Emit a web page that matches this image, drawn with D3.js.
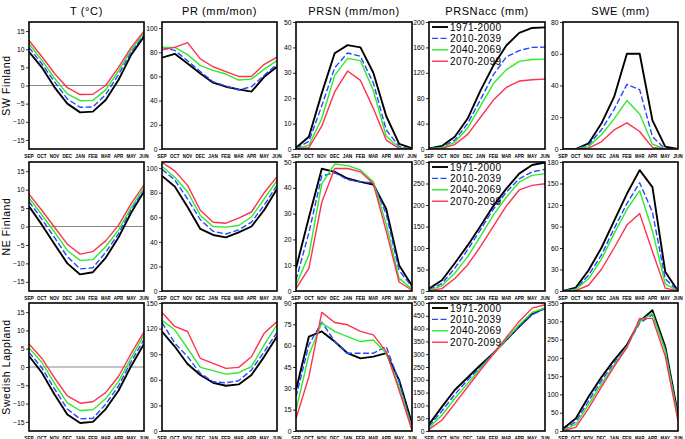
<!DOCTYPE html>
<html><head><meta charset="utf-8">
<script src="https://cdn.jsdelivr.net/npm/d3@7"></script>
<style>
body{margin:0;background:#fff;}
svg{display:block;font-family:"Liberation Sans",Arial,sans-serif;}
</style></head>
<body><svg id="c" width="685" height="439"></svg>
<script>
const months = ["SEP","OCT","NOV","DEC","JAN","FEB","MAR","APR","MAY","JUN"];
const periods = ["1971-2000","2010-2039","2040-2069","2070-2099"];
const periodColors = ["#000000","#2448ff","#2eea2e","#ff3050"];
const regions = ["SW Finland","NE Finland","Swedish Lappland"];
const variables = ["T (°C)","PR (mm/mon)","PRSN (mm/mon)","PRSNacc (mm)","SWE (mm)"];

// each panel: [1971-2000, 2010-2039, 2040-2069, 2070-2099]
const T_SW = [
  [9.3,5,-0.5,-5,-7.4,-7.2,-4,1.5,8.5,13.5],
  [10.5,6,1,-3.7,-6,-5.9,-2.5,3,9.2,14],
  [11.5,7,2,-2.3,-4.2,-4.1,-1.2,4,9.8,14.5],
  [12.4,8,3.3,-0.6,-2.5,-2.4,0,5,10.5,15]];
const T_NE = [
  [5.5,0.5,-4.8,-10,-13,-12.4,-8.5,-3,3.8,9.5],
  [6.8,2,-3,-8.2,-11.5,-11.2,-7,-2,4.5,10],
  [7.8,3.2,-1.5,-6.5,-9.2,-9,-5.5,-1,5.2,10.5],
  [8.8,4.4,-0.2,-4.8,-7.5,-6.8,-3.9,0.3,6.2,11.3]];
const T_SL = [
  [3,-1.5,-7.5,-13,-15.3,-15,-11.5,-6.5,0.3,6.3],
  [4,-0.2,-6,-11.5,-14.2,-14,-10.2,-5.2,1.5,7.5],
  [5.2,1.3,-4.5,-9.8,-11.9,-11.7,-8.7,-4,2.5,8.7],
  [6.3,2.4,-3,-7.9,-9.9,-9.5,-7,-2.6,3.7,9.6]];

const PR_SW = [
  [75.5,78.7,70.6,62.4,54.8,51.5,49.3,47.4,59.7,68],
  [84,81.5,73,64,55.6,52,48.8,51.5,61,70],
  [84,84,78,69,65,62,57,57.8,66,73],
  [82,84,88,74.5,68,64,60,60,70,76]];
const PR_NE = [
  [93.7,85,68.4,50.5,45.6,43.7,47.8,52.5,66,83],
  [99,90.4,75,58,48.6,46.4,49.7,56,70,86],
  [101.4,92.6,80.8,61.5,52.5,52,53.3,60.2,75,90],
  [104.7,97.8,86,65.7,56,55.2,59.3,64.3,80,93]];
const PR_SL = [
  [116.6,99,78.5,65.6,56.5,53,54.6,65.6,87.2,110.7],
  [127.2,102.9,87.2,67.5,57.7,56.5,58.9,71.5,93,115.4],
  [129.6,118.6,97,74.6,70.7,66.7,68.3,75.4,101,124.5],
  [139,122.5,116.6,85,79.3,73.4,74.6,87,114.6,128.4]];

const PRSN_SW = [
  [0.5,4.8,22,37.7,40.9,40,30,13,2,0.3],
  [0.2,3,17,32,37.8,36.5,26,7.5,1,0],
  [0,1.5,12,29,35.7,34.8,23,5,0.5,0],
  [0,0.5,9,22.5,30.7,27,16,3.5,0.2,0]];
const PRSN_NE = [
  [8.8,28.5,47.4,46.2,43.6,42.3,41.3,31.8,10,2],
  [4.2,22.6,44.6,45.8,43.2,42.3,41.9,29.8,8,1.5],
  [2.2,14,41.6,49.2,48.6,46.9,42.3,25.9,4.9,0.8],
  [0.9,8.8,34.4,47.5,47.5,46.2,41.6,23.2,3.5,0.3]];
const PRSN_SL = [
  [28.7,66.4,70,62.9,54.7,51.1,52.3,54.7,35.8,5.2],
  [24,60.6,76.6,62.9,54.7,54.7,54.7,59.4,34.6,2.8],
  [14.6,53.5,75.9,70,66.4,62.9,64,54.7,31.1,1.6],
  [8.7,38.2,83.4,76.3,74.7,70,67.6,55.8,28.7,0.5]];

const PRSNacc_SW = [
  [1,4.7,19.3,48,92.4,131.6,163,182.8,190.6,191.6],
  [0.5,3,14,40,78,117,145,155,160,160.5],
  [0.3,2,10.5,33,68,103,125,138,141,141.5],
  [0,1,7,23,50,77,97,107,109,110]];
const PRSNacc_NE = [
  [5.5,25,64.6,106,151,198,238,273,293,299],
  [3,17,53,96,143,190.6,230,261,277,283],
  [1.5,12,41,80,127.6,177,218,253.5,269,273],
  [0.8,5.5,29,60.6,104,151,198,235,245.7,249.6]];
const PRSNacc_SL = [
  [26,94,160,209,258,304,356,408,458,480],
  [18,78,142.7,199,251,304,356,406,454,478],
  [13,61.5,127,186,245,301,359,415,463,480],
  [6.5,42,107,173,238,301,366,428,480,493]];

const SWE_SW = [
  [0,0,3.5,16,32.8,60,60,18,1.5,0],
  [0,0,2.5,12,25,40.7,37.4,7.7,0,0],
  [0,0,1.5,9,19,30.5,22,3,0,0],
  [0,0,0.5,4.5,12,16.5,11,1,0,0]];
const SWE_NE = [
  [0,4.7,29,60,97.8,135.6,168.6,145,27,0],
  [0,3,22,50,87,122,151,110,17,0],
  [0,2,17,44,80,114,140,84,10,0],
  [0,0.5,8,30,60,92,108,55,4,0]];
const SWE_SL = [
  [6.4,34,93.5,146.6,194,235.6,299.7,330,231,45],
  [3,25,82,137,187,232,295,318,225,40],
  [2,18,72,128,180,230,300,322,220,35],
  [0.5,10,62,120,176,228,308,308,205,28]];

// axis domains and tick labels per panel (row-major)
const yDomains = [
  [[-17.5,17.5],[0,105],[0,50],[0,200],[0,80]],
  [[-17.5,17.5],[0,105],[0,50],[0,300],[0,180]],
  [[-17.5,17.5],[0,150],[0,90],[0,500],[0,350]]];
const yTicks = [
  [[-15,-10,-5,0,5,10,15],[0,20,40,60,80,100],[0,10,20,30,40,50],[0,40,80,120,160,200],[0,20,40,60,80]],
  [[-15,-10,-5,0,5,10,15],[0,20,40,60,80,100],[0,10,20,30,40,50],[0,50,100,150,200,250,300],[0,30,60,90,120,150,180]],
  [[-15,-10,-5,0,5,10,15],[0,30,60,90,120,150],[0,15,30,45,60,75,90],[0,50,100,150,200,250,300,350,400,450,500],[0,50,100,150,200,250,300,350]]];

const panelData = [
  [T_SW,PR_SW,PRSN_SW,PRSNacc_SW,SWE_SW],
  [T_NE,PR_NE,PRSN_NE,PRSNacc_NE,SWE_NE],
  [T_SL,PR_SL,PRSN_SL,PRSNacc_SL,SWE_SL]];

// layout
const colX = [29,162,296,429,563];
const colW = [115,115,116,116,115];
const rowY = [22,162,303];
const rowH = [127,129,128];

const svg = d3.select("#c");

// column titles
variables.forEach((v,c)=>{
  svg.append("text").attr("x",colX[c]+colW[c]/2).attr("y",15)
    .attr("text-anchor","middle").attr("font-size",11).attr("letter-spacing",0.6)
    .text(v);
});
// row labels
regions.forEach((r,i)=>{
  const cy = rowY[i]+rowH[i]/2;
  svg.append("text").attr("transform",`translate(10,${cy}) rotate(-90)`)
    .attr("text-anchor","middle").attr("font-size",10.5).attr("letter-spacing",0.6)
    .text(r);
});

panelData.forEach((row,ri)=>{
  row.forEach((data,ci)=>{
    const x0=colX[ci], w=colW[ci], y0=rowY[ri], h=rowH[ri];
    const x = d3.scalePoint().domain(months).range([x0,x0+w]);
    const y = d3.scaleLinear().domain(yDomains[ri][ci]).range([y0+h,y0]);
    const g = svg.append("g");
    const clipId = `clip${ri}${ci}`;
    g.append("clipPath").attr("id",clipId).append("rect")
      .attr("x",x0).attr("y",y0).attr("width",w).attr("height",h);

    // y axis
    const ya = g.append("g").attr("transform",`translate(${x0},0)`)
      .call(d3.axisLeft(y).tickValues(yTicks[ri][ci]).tickSize(3).tickPadding(1.5).tickFormat(d3.format("d")));
    ya.select(".domain").remove();
    ya.selectAll("text").attr("font-size",6.8).attr("font-family","Liberation Sans, Arial, sans-serif");
    ya.selectAll("line").attr("stroke-width",0.8);

    // x labels
    g.selectAll(".xl").data(months).join("text")
      .attr("x",d=>x(d)).attr("y",y0+h+8.5)
      .attr("text-anchor","middle").attr("font-size",6).attr("font-weight","bold")
      .attr("textLength",9.5).attr("lengthAdjust","spacingAndGlyphs")
      .text(d=>d);

    // zero line for temperature
    if(ci===0){
      g.append("line").attr("x1",x0).attr("x2",x0+w).attr("y1",y(0)).attr("y2",y(0))
        .attr("stroke","#888").attr("stroke-width",1);
    }

    const line = d3.line().x((d,i)=>x(months[i])).y(d=>y(d));
    const lg = g.append("g").attr("clip-path",`url(#${clipId})`);
    data.forEach((s,si)=>{
      lg.append("path").attr("d",line(s)).attr("fill","none")
        .attr("stroke",periodColors[si])
        .attr("stroke-width",si===0?1.9:1.4)
        .attr("stroke-dasharray",si===1?"6,2.5":null)
        .attr("stroke-linejoin","round");
    });

    // border
    g.append("rect").attr("x",x0).attr("y",y0).attr("width",w).attr("height",h)
      .attr("fill","none").attr("stroke","#000").attr("stroke-width",1.6);

    // legend in PRSNacc panels
    if(ci===3){
      periods.forEach((p,pi)=>{
        const ly = y0+5+pi*11.4;
        g.append("line").attr("x1",x0+3).attr("x2",x0+19).attr("y1",ly).attr("y2",ly)
          .attr("stroke",periodColors[pi]).attr("stroke-width",pi===0?1.9:1.4)
          .attr("stroke-dasharray",pi===1?"6,2.5":null);
        g.append("text").attr("x",x0+21).attr("y",ly+3.5).attr("font-size",10)
          .attr("letter-spacing",0.4).text(p);
      });
    }
  });
});
</script></body></html>
